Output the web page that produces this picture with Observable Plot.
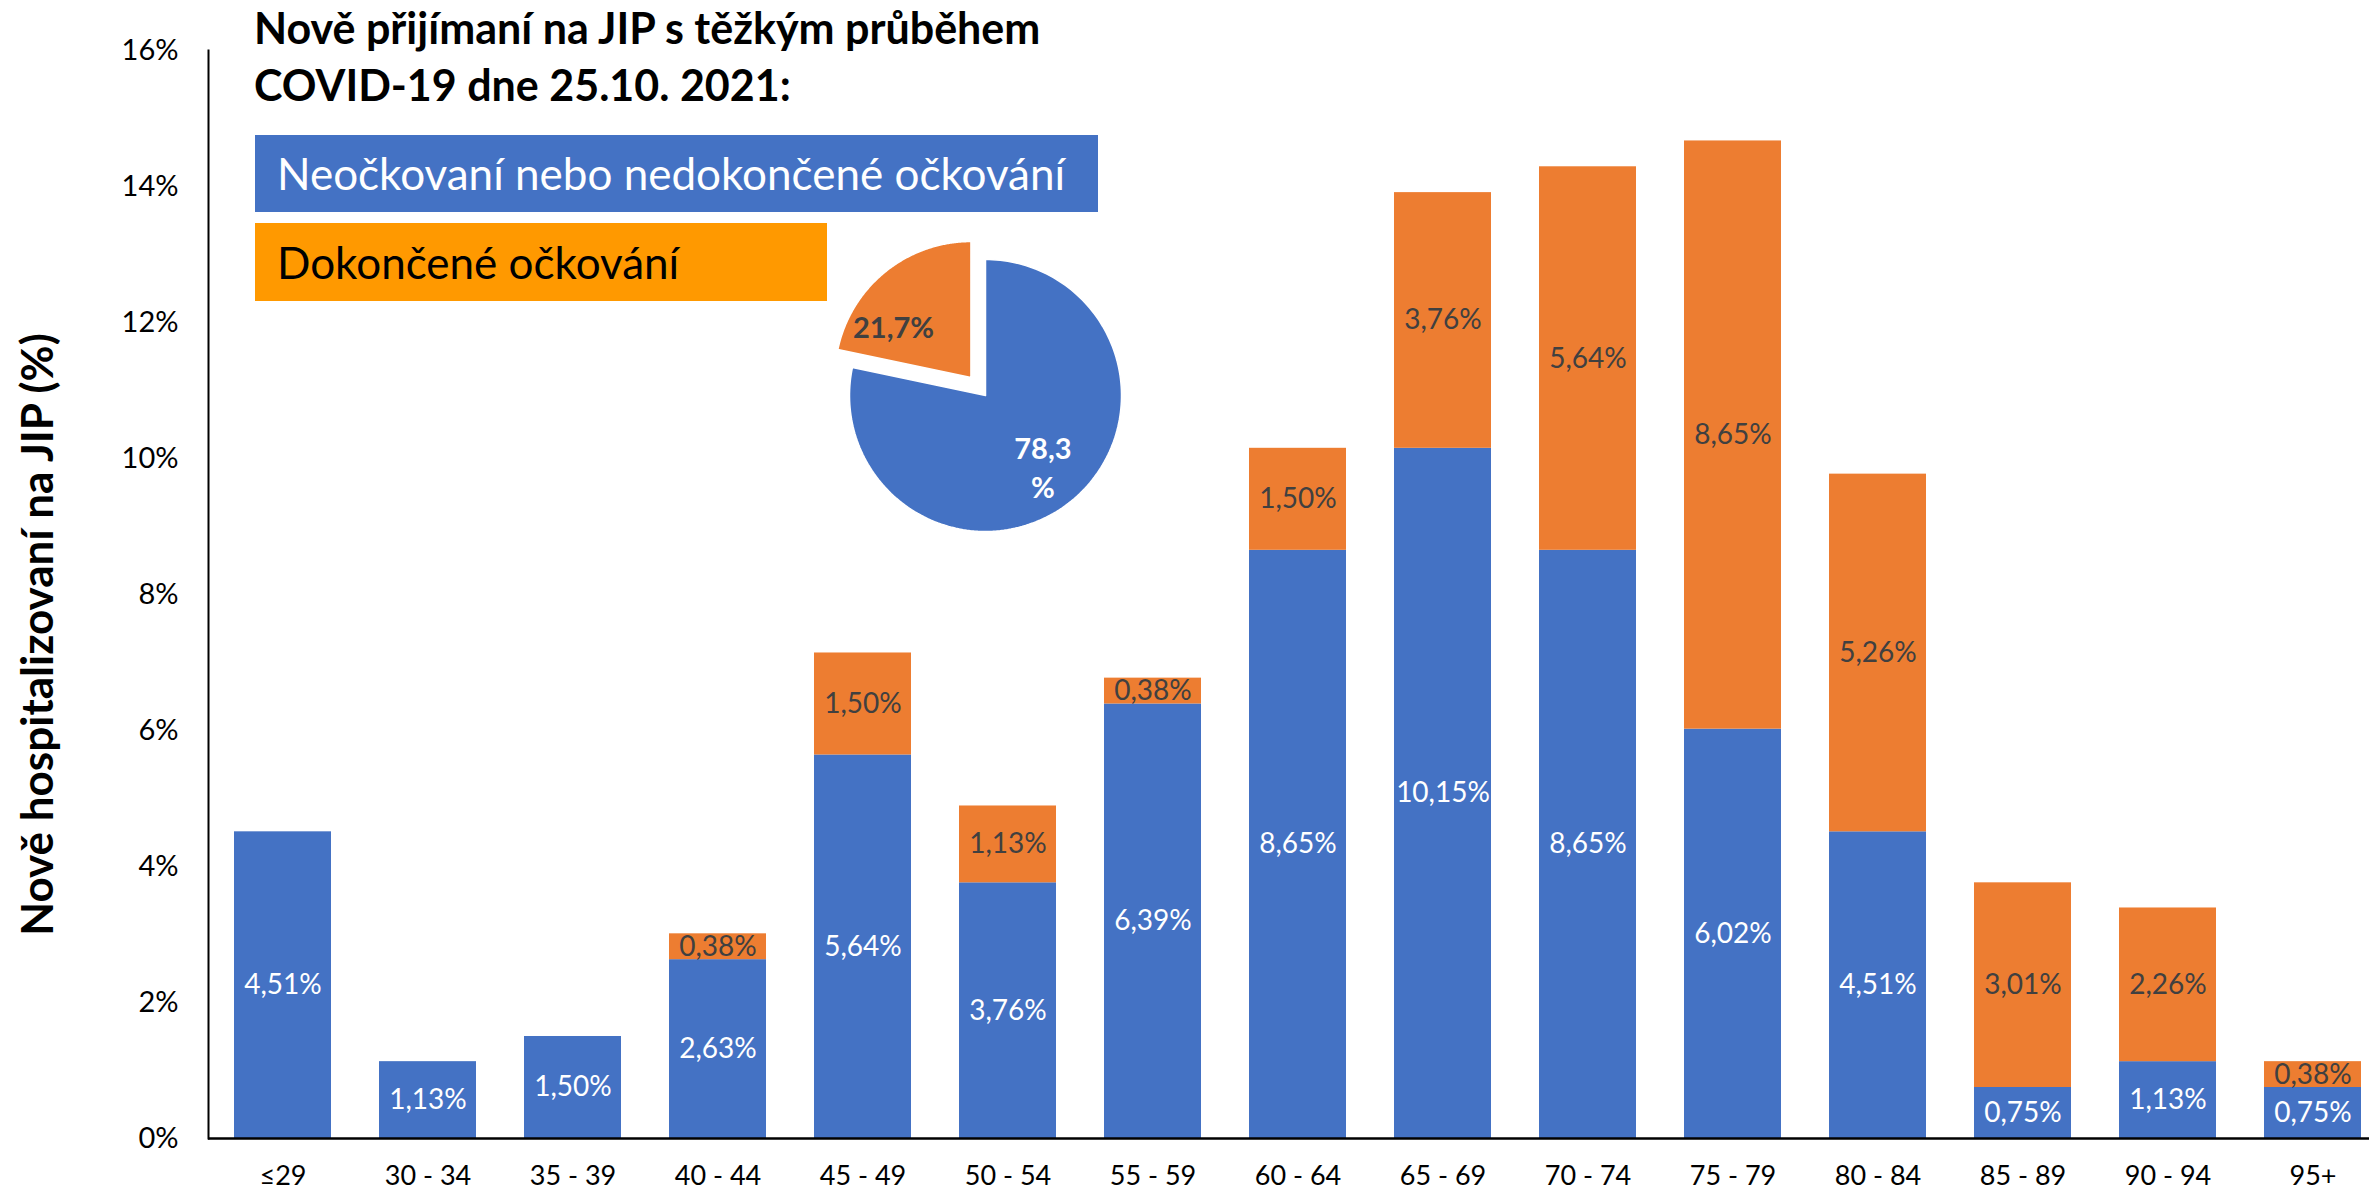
<!DOCTYPE html>
<html>
<head>
<meta charset="utf-8">
<script src="https://cdn.jsdelivr.net/npm/d3@7"></script>
<script src="https://cdn.jsdelivr.net/npm/@observablehq/plot@0.6"></script>
<style>
  body { margin: 0; background: #fff; }
  #wrap { position: relative; width: 2369px; height: 1192px; overflow: hidden; font-family: Lato, "Open Sans", sans-serif; background: #fff; }
  .abs { position: absolute; }
  #title { left: 254px; top: -1px; font-weight: 700; font-size: 43px; line-height: 57px; color: #000; white-space: nowrap; z-index: 3; }
  .legbox { box-sizing: border-box; padding-left: 22px; font-size: 44px; white-space: nowrap; z-index: 3; }
  #leg1 { left: 255px; top: 135px; width: 843px; height: 77px; line-height: 77px; background: #4472C4; color: #fff; }
  #leg2 { left: 255px; top: 223px; width: 572px; height: 78px; line-height: 78px; background: #FF9900; color: #000; }
  #main { left: 0; top: 0; z-index: 1; }
  #pie { left: 815px; top: 225px; z-index: 4; }
</style>
</head>
<body>
<div id="wrap">
  <div id="main" class="abs"></div>
  <div id="title" class="abs">Nově přijímaní na JIP s těžkým průběhem<br>COVID-19 dne 25.10. 2021:</div>
  <div id="leg1" class="abs legbox"></div>
  <div id="leg2" class="abs legbox"></div>
  <div id="pie" class="abs"></div>
</div>
<script>
// ---- Data ----
const ages = ["≤29", "30 - 34", "35 - 39", "40 - 44", "45 - 49", "50 - 54", "55 - 59", "60 - 64", "65 - 69", "70 - 74", "75 - 79", "80 - 84", "85 - 89", "90 - 94", "95+"];
const unvaccinated = [4.51, 1.13, 1.50, 2.63, 5.64, 3.76, 6.39, 8.65, 10.15, 8.65, 6.02, 4.51, 0.75, 1.13, 0.75];
const vaccinated   = [0, 0, 0, 0.38, 1.50, 1.13, 0.38, 1.50, 3.76, 5.64, 8.65, 5.26, 3.01, 2.26, 0.38];
const seriesNames = ["Neočkovaní nebo nedokončené očkování", "Dokončené očkování"];
const yTicks = [0, 2, 4, 6, 8, 10, 12, 14, 16];
const pieShares = [78.3, 21.7];
const yTitle = "Nově hospitalizovaní na JIP (%)";

// ---- Styles ----
const barColor = {[seriesNames[0]]: "#4472C4", [seriesNames[1]]: "#ED7D31"};
const labelColor = {[seriesNames[0]]: "#ffffff", [seriesNames[1]]: "#404040"};
const fmt2 = v => v.toFixed(2).replace(".", ",") + "%";

document.getElementById("leg1").textContent = seriesNames[0];
document.getElementById("leg2").textContent = seriesNames[1];

const rows = ages.flatMap((a, i) => [
  {age: a, group: seriesNames[0], value: unvaccinated[i]},
  {age: a, group: seriesNames[1], value: vaccinated[i]}
]).filter(d => d.value > 0);

const chart = Plot.plot({
  width: 2369,
  height: 1192,
  marginLeft: 208,
  marginRight: 0,
  marginTop: 50,
  marginBottom: 54,
  style: {fontFamily: "Lato, 'Open Sans', sans-serif", background: "transparent", color: "#000"},
  x: {domain: ages, range: [208, 2388], paddingInner: 0.33, paddingOuter: 0.17, align: 0.5},
  y: {domain: [0, 16]},
  color: {type: "identity"},
  marks: [
    Plot.barY(rows, {x: "age", y: "value", fill: d => barColor[d.group]}),
    Plot.text(rows, Plot.stackY({x: "age", y: "value", text: d => fmt2(d.value), fill: d => labelColor[d.group], fontSize: 28})),
    Plot.axisY({ticks: yTicks, tickSize: 0, tickPadding: 30, tickFormat: d => d + "%", fontSize: 29, label: null}),
    Plot.axisX({tickSize: 0, tickPadding: 27, fontSize: 27, label: null}),
    Plot.frame({anchor: "left", stroke: "#000", strokeWidth: 2}),
    Plot.ruleY([0], {stroke: "#000", strokeWidth: 2.5}),
    Plot.text([yTitle], {frameAnchor: "left", textAnchor: "middle", rotate: -90, dx: -170, dy: 40, fontSize: 44, fontWeight: 700, fill: "#000"})
  ]
});
document.getElementById("main").appendChild(chart);

// ---- Pie ----
const arcs = d3.pie().sort(null)(pieShares);
const explode = [0, 0.17];
const pieColors = ["#4472C4", "#ED7D31"];
const slices = arcs.map((p, i) => {
  const mid = (p.startAngle + p.endAngle) / 2;
  const ox = explode[i] * Math.sin(mid), oy = explode[i] * Math.cos(mid);
  const n = 180;
  const pts = [[ox, oy]].concat(d3.range(n + 1).map(k => {
    const a = p.startAngle + (p.endAngle - p.startAngle) * k / n;
    return [ox + Math.sin(a), oy + Math.cos(a)];
  }));
  return {pts, mid, i};
});
const pieLabels = slices.map(s => {
  const r = 0.67 + explode[s.i];
  const txt = pieShares[s.i].toFixed(1).replace(".", ",");
  return {x: r * Math.sin(s.mid), y: r * Math.cos(s.mid), text: s.i === 0 ? txt + "\n%" : txt + "%", i: s.i};
});

const pie = Plot.plot({
  width: 340,
  height: 340,
  margin: 0,
  style: {fontFamily: "Lato, 'Open Sans', sans-serif", background: "transparent"},
  x: {domain: [-1.25, 1.25], axis: null},
  y: {domain: [-1.25, 1.25], axis: null},
  marks: [
    ...slices.map(s => Plot.line(s.pts, {x: d => d[0], y: d => d[1], fill: pieColors[s.i], stroke: "#fff", strokeWidth: 1.5, curve: "linear-closed"})),
    Plot.text(pieLabels.filter(d => d.i === 0), {x: "x", y: "y", text: "text", fill: "#fff", fontSize: 29, fontWeight: 700, lineHeight: 1.35}),
    Plot.text(pieLabels.filter(d => d.i === 1), {x: "x", y: "y", text: "text", fill: "#404040", fontSize: 29, fontWeight: 700, dx: -20, dy: 22})
  ]
});
document.getElementById("pie").appendChild(pie);
</script>
</body>
</html>
